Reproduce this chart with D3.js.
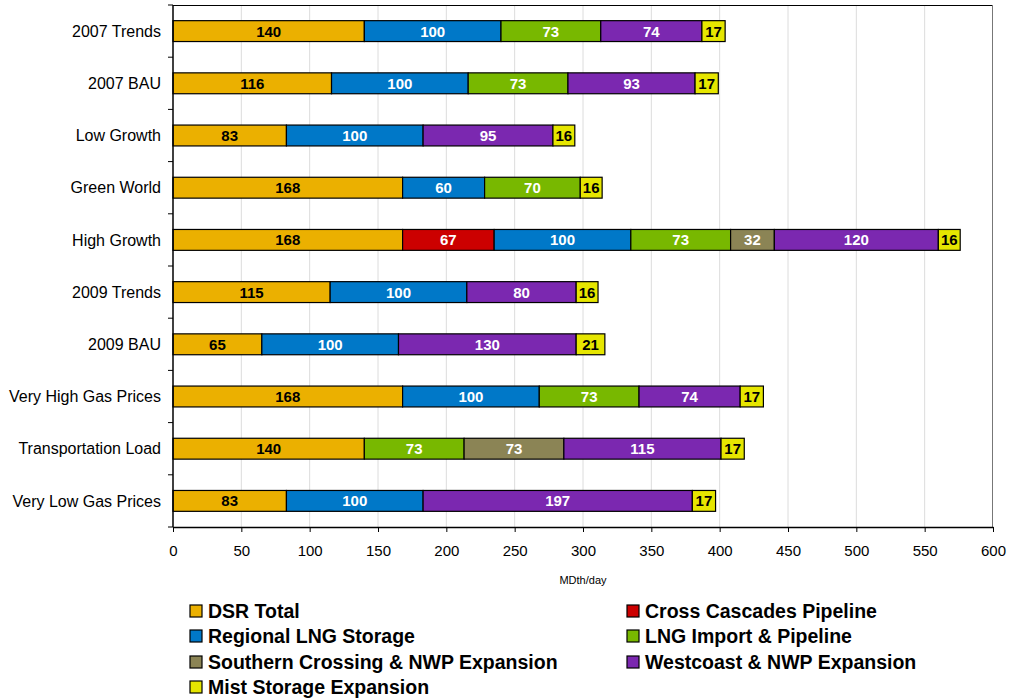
<!DOCTYPE html>
<html>
<head>
<meta charset="utf-8">
<script src="https://cdn.jsdelivr.net/npm/d3@7"></script>
<style>
  body { margin: 0; background: #fff; }
  text { font-family: Arial, "Liberation Sans", sans-serif; }
</style>
</head>
<body>
<svg width="1009" height="700"></svg>
<script>
var categories = ["2007 Trends", "2007 BAU", "Low Growth", "Green World", "High Growth",
  "2009 Trends", "2009 BAU", "Very High Gas Prices", "Transportation Load", "Very Low Gas Prices"];

var seriesNames = ["DSR Total", "Cross Cascades Pipeline", "Regional LNG Storage", "LNG Import & Pipeline",
  "Southern Crossing & NWP Expansion", "Westcoast & NWP Expansion", "Mist Storage Expansion"];

var dsrTotal       = [140, 116, 83, 168, 168, 115, 65, 168, 140, 83];
var crossCascades  = [0, 0, 0, 0, 67, 0, 0, 0, 0, 0];
var regionalLng    = [100, 100, 100, 60, 100, 100, 100, 100, 0, 100];
var lngImport      = [73, 73, 0, 70, 73, 0, 0, 73, 73, 0];
var southernCross  = [0, 0, 0, 0, 32, 0, 0, 0, 73, 0];
var westcoast      = [74, 93, 95, 0, 120, 80, 130, 74, 115, 197];
var mistStorage    = [17, 17, 16, 16, 16, 16, 21, 17, 17, 17];

var xTicks = [0, 50, 100, 150, 200, 250, 300, 350, 400, 450, 500, 550, 600];

var colors = ["#EBB000", "#CC0000", "#0078C8", "#78B800", "#8B8455", "#7B28B0", "#E6E600"];
var labelColors = ["#000", "#fff", "#fff", "#fff", "#fff", "#fff", "#000"];

var allSeries = [dsrTotal, crossCascades, regionalLng, lngImport, southernCross, westcoast, mistStorage];

var svg = d3.select("svg");
var pLeft = 173, pRight = 993, pTop = 5, pBottom = 527;

var x = d3.scaleLinear().domain([0, 600]).range([pLeft, pRight]);
var y = d3.scaleBand().domain(categories).range([pTop, pBottom]).paddingInner(0.6).paddingOuter(0.3);

// gridlines
svg.selectAll(".grid").data(xTicks.slice(1, -1)).enter().append("line")
  .attr("x1", function(d) { return x(d); }).attr("x2", function(d) { return x(d); })
  .attr("y1", pTop).attr("y2", pBottom)
  .attr("stroke", "#dcdcdc").attr("stroke-width", 1);

// frame top / right
svg.append("line").attr("x1", pLeft).attr("x2", pRight).attr("y1", pTop + 0.5).attr("y2", pTop + 0.5)
  .attr("stroke", "#000");
svg.append("line").attr("x1", pRight - 0.5).attr("x2", pRight - 0.5).attr("y1", pTop).attr("y2", pBottom)
  .attr("stroke", "#777");

// stacked data
var rows = categories.map(function(c, i) {
  var o = { cat: c };
  seriesNames.forEach(function(s, j) { o[s] = allSeries[j][i]; });
  return o;
});
var stack = d3.stack().keys(seriesNames)(rows);

stack.forEach(function(layer, j) {
  var g = svg.append("g");
  layer.forEach(function(d) {
    var v = d[1] - d[0];
    if (v <= 0) return;
    var cat = d.data.cat;
    g.append("rect")
      .attr("x", x(d[0])).attr("y", y(cat))
      .attr("width", x(d[1]) - x(d[0])).attr("height", y.bandwidth())
      .attr("fill", colors[j]).attr("stroke", "#000").attr("stroke-width", 1.2);
    g.append("text")
      .attr("x", (x(d[0]) + x(d[1])) / 2).attr("y", y(cat) + y.bandwidth() / 2)
      .attr("dy", "0.36em").attr("text-anchor", "middle")
      .attr("font-size", 15).attr("font-weight", "bold")
      .attr("fill", labelColors[j]).text(v);
  });
});

// y axis
var yAxisG = svg.append("g");
yAxisG.append("line").attr("x1", pLeft).attr("x2", pLeft).attr("y1", pTop).attr("y2", pBottom)
  .attr("stroke", "#000").attr("stroke-width", 1.5);
var step = (pBottom - pTop) / categories.length;
for (var i = 0; i <= categories.length; i++) {
  yAxisG.append("line").attr("x1", pLeft - 5).attr("x2", pLeft)
    .attr("y1", pTop + i * step).attr("y2", pTop + i * step).attr("stroke", "#000");
}
yAxisG.selectAll("text").data(categories).enter().append("text")
  .attr("x", pLeft - 12).attr("y", function(d) { return y(d) + y.bandwidth() / 2; })
  .attr("dy", "0.36em").attr("text-anchor", "end").attr("font-size", 16).attr("fill", "#000")
  .text(function(d) { return d; });

// x axis
var xAxis = d3.axisBottom(x).tickValues(xTicks).tickSize(5).tickSizeOuter(0);
var xg = svg.append("g").attr("transform", "translate(0," + pBottom + ")").call(xAxis);
xg.select(".domain").attr("stroke", "#000").attr("stroke-width", 1.5);
xg.selectAll("line").attr("stroke", "#000");
xg.selectAll("text").attr("font-size", 15).attr("fill", "#000").attr("y", 18).attr("dy", "0.71em");

svg.append("text").attr("x", (pLeft + pRight) / 2).attr("y", 584).attr("text-anchor", "middle")
  .attr("font-size", 11).attr("fill", "#000").text("MDth/day");

// legend
var legendPos = [[190, 611], [627, 611], [190, 636], [627, 636], [190, 662], [627, 662], [190, 687]];
seriesNames.forEach(function(s, j) {
  var p = legendPos[j];
  svg.append("rect").attr("x", p[0]).attr("y", p[1] - 6).attr("width", 12).attr("height", 12)
    .attr("fill", colors[j]).attr("stroke", "#000").attr("stroke-width", 1.2);
  svg.append("text").attr("x", p[0] + 18).attr("y", p[1]).attr("dy", "0.36em")
    .attr("font-size", 19.5).attr("font-weight", "bold").attr("fill", "#000").text(s);
});
</script>
</body>
</html>
